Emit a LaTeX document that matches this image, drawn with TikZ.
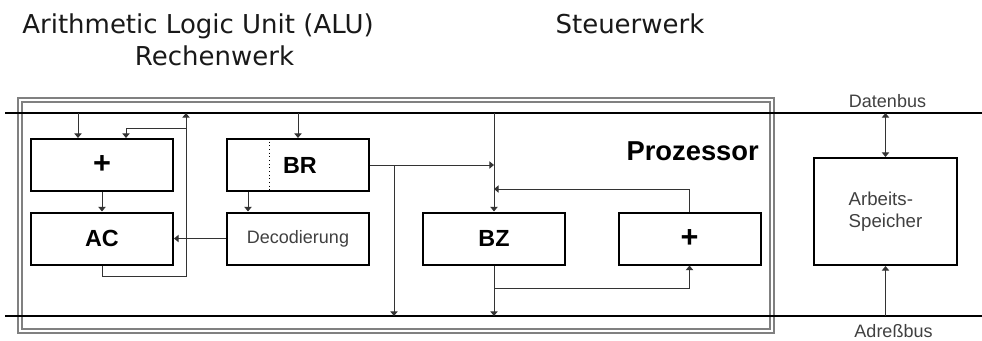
\documentclass[tikz,border=0pt]{standalone}
\usepackage{fontspec}
\setmainfont{Liberation Sans}
\newfontfamily\dejavu{DejaVu Sans}
\usetikzlibrary{arrows.meta}

\begin{document}
\begin{tikzpicture}[
  x=0.75pt, y=-0.75pt,
  unit/.style={rectangle, draw=black, line width=1.5pt, minimum width=106.5pt, minimum height=39pt, inner sep=0pt, font=\fontsize{17.5}{20}\selectfont\bfseries},
  plain/.style={unit, font=\fontsize{13.5}{16}\selectfont, text=black!75},
  bus/.style={line width=1.5pt, color=black},
  arrow/.style={-{Triangle[length=3.5pt,width=5.5pt]}, line width=0.75pt, color=black!80},
  biarrow/.style={arrow, {Triangle[length=3.5pt,width=5.5pt]}-{Triangle[length=3.5pt,width=5.5pt]}},
  title/.style={font=\dejavu\fontsize{19.5}{23}\selectfont, text=black!90, anchor=base, inner sep=0pt},
  lbl/.style={font=\fontsize{13.5}{16}\selectfont, text=black!75, anchor=base, inner sep=0pt}
]
  \useasboundingbox (0,0) rectangle (982,340);

  \node[title] (alu) at (198,33) {Arithmetic Logic Unit (ALU)};
  \node[title] (rw) at (214.5,65) {Rechenwerk};
  \node[title] (sw) at (630,33) {Steuerwerk};

  % Prozessor frame
  \draw[gray, line width=0.9pt, double, double distance=2.2pt] (20,100) rectangle (772,331);
  \node[font=\fontsize{20.5}{24}\selectfont\bfseries, anchor=base east, inner sep=0pt] (proz) at (759,160) {Prozessor};

  % buses
  \coordinate (db) at (5,113);
  \coordinate (dbe) at (982,113);
  \coordinate (ab) at (5,316);
  \coordinate (abe) at (982,316);
  \draw[bus] (db) -- (dbe);
  \draw[bus] (ab) -- (abe);
  \node[lbl] (dblbl) at (887.5,107) {Datenbus};
  \node[lbl] (ablbl) at (893.5,337) {Adreßbus};

  \node[unit, font=\fontsize{23}{24}\selectfont\bfseries] (aluadd) at (102,165) {+};
  \node[unit] (ac) at (102,238.5) {AC};
  \node[unit] (br) at (298,165) {\hspace{3pt}BR};
  \node[plain] (dec) at (298,238.5) {Decodierung};
  \node[unit] (bz) at (494,238.5) {BZ};
  \node[unit, font=\fontsize{23}{24}\selectfont\bfseries] (pcadd) at (689.5,238.5) {+};
  \node[plain, minimum width=107.25pt, minimum height=80.25pt, align=left, font=\fontsize{14}{16.5}\selectfont] (mem) at (885.5,211.5) {Arbeits-\\Speicher};
  \draw[dotted, line width=0.75pt] ([xshift=-21.75pt]br.north) -- ([xshift=-21.75pt]br.south);

  % Rechenwerk
  \coordinate (aluin) at ([xshift=-18pt]aluadd.north);
  \coordinate (alufb) at ([xshift=18pt]aluadd.north);
  \coordinate (fb) at (186,276);
  \coordinate (fbk) at (186,128);
  \draw[arrow] (aluin |- db) -- (aluin);
  \draw[arrow] (ac.south) |- (fb) -- (fb |- db);
  \draw[arrow] (fbk) -| (alufb);
  \draw[arrow] (aluadd.south) -- (ac.north);
  \draw[arrow] (dec.west) -- (ac.east);

  % Befehlsregister
  \coordinate (brl) at ([xshift=-37.5pt]br.south);
  \coordinate (brk) at (394,0);
  \draw[arrow] (br.north |- db) -- (br.north);
  \draw[arrow] (brl) -- (brl |- dec.north);
  \draw[arrow] (br.east) -- (br.east -| bz.north);
  \draw[arrow] (br.east -| brk) -- (brk |- ab);

  % Steuerwerk
  \coordinate (pcret) at (0,189);
  \coordinate (pcin) at (0,288);
  \draw[arrow] (bz.north |- db) -- (bz.north);
  \draw[arrow] (pcadd.north) |- (bz.north |- pcret);
  \draw[arrow] (bz.south) -- (bz.south |- ab);
  \draw[arrow] (bz.south |- pcin) -| (pcadd.south);

  % Arbeitsspeicher
  \draw[biarrow] (mem.north |- db) -- (mem.north);
  \draw[arrow] (mem.south |- ab) -- (mem.south);
\end{tikzpicture}
\end{document}
